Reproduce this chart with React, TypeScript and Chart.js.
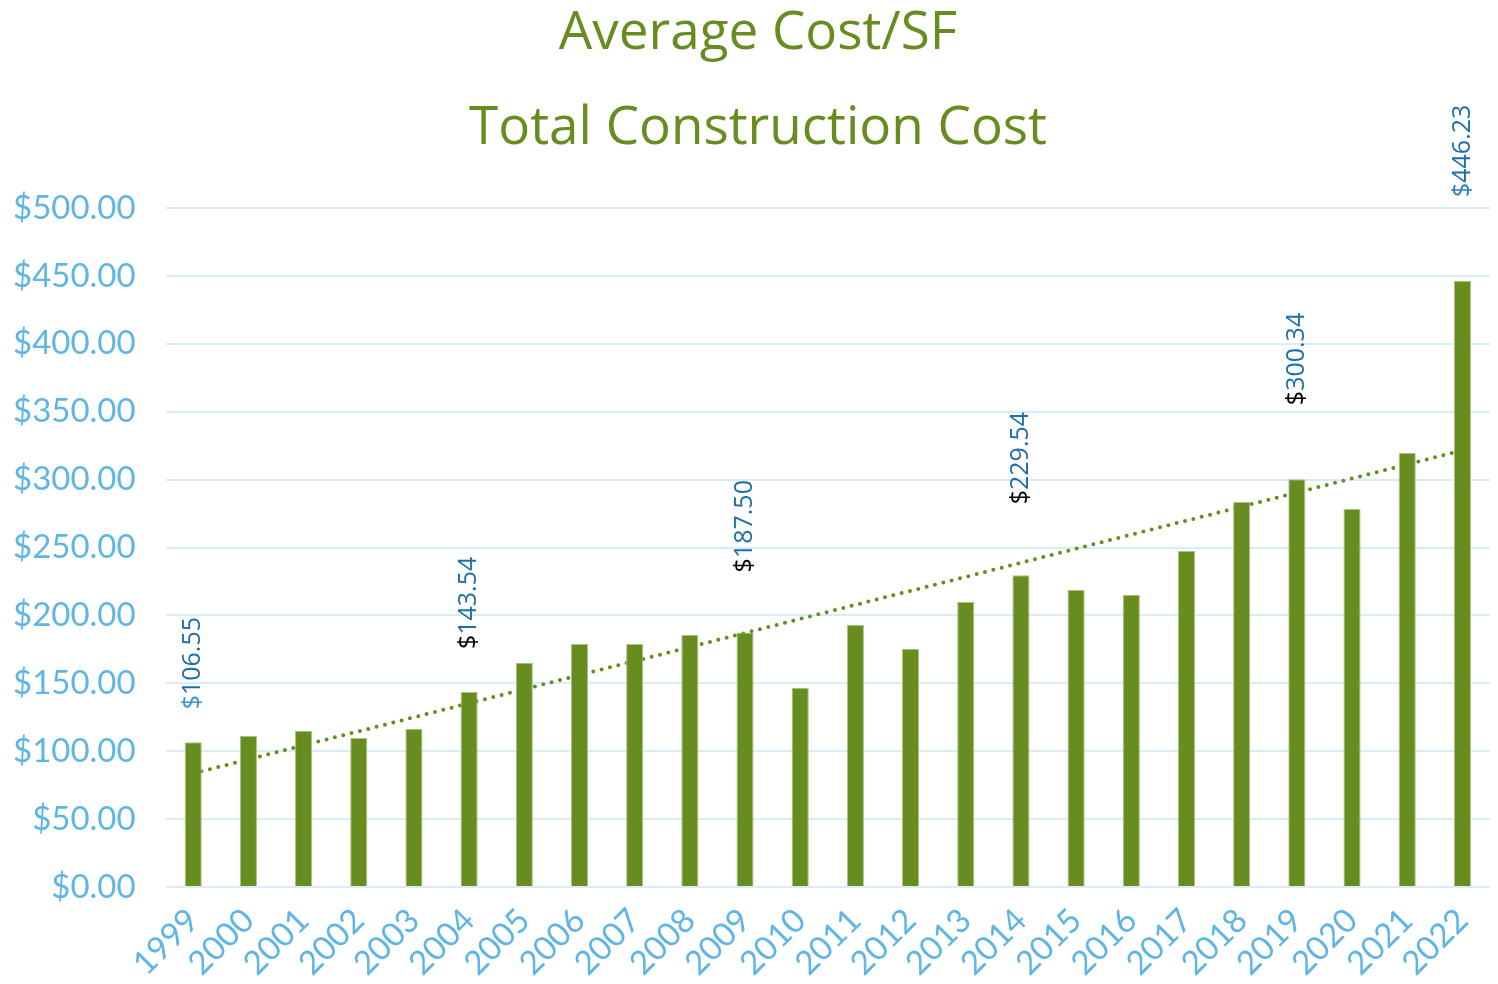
import React, { useEffect, useRef } from "react";
import { Chart, registerables } from "chart.js";

Chart.register(...registerables);

const years = [
  "1999", "2000", "2001", "2002", "2003", "2004", "2005", "2006", "2007", "2008", "2009", "2010",
  "2011", "2012", "2013", "2014", "2015", "2016", "2017", "2018", "2019", "2020", "2021", "2022",
];

const costPerSF = [
  106.55, 111.2, 114.9, 109.7, 116.3, 143.54, 165.0, 179.0, 179.0, 185.6, 187.5, 146.5,
  193.0, 175.3, 209.9, 229.54, 218.7, 215.0, 247.4, 283.5, 300.34, 278.4, 319.6, 446.23,
];

const labeledYears = ["1999", "2004", "2009", "2014", "2019", "2022"];
const dollarSignColors = ["#3c93cf", "#000000", "#000000", "#000000", "#000000", "#2a7fbe"];
const labelGaps = [33, 43, 60, 71, 74, 84];

const titleLines = ["Average Cost/SF", "Total Construction Cost"];

const GREEN = "#678c1f";
const TICK_BLUE = "#5fb5e3";
const LABEL_BLUE = "#1f6fa7";

function linearTrend(values: number[]): number[] {
  const n = values.length;
  let sx = 0, sy = 0, sxy = 0, sxx = 0;
  values.forEach((v, i) => {
    sx += i; sy += v; sxy += i * v; sxx += i * i;
  });
  const slope = (n * sxy - sx * sy) / (n * sxx - sx * sx);
  const intercept = (sy - slope * sx) / n;
  return values.map((_, i) => intercept + slope * i);
}

const valueLabelPlugin = {
  id: "valueLabels",
  afterDatasetsDraw(chart: any) {
    const meta = chart.getDatasetMeta(0);
    const ctx = chart.ctx as CanvasRenderingContext2D;
    ctx.save();
    ctx.font = "25px 'Open Sans', 'Noto Sans', sans-serif";
    ctx.textAlign = "left";
    ctx.textBaseline = "middle";
    labeledYears.forEach((yr, k) => {
      const i = years.indexOf(yr);
      const bar = meta.data[i];
      if (!bar) return;
      const rest = costPerSF[i].toFixed(2);
      ctx.save();
      ctx.translate(bar.x, bar.y - labelGaps[k]);
      ctx.rotate(-Math.PI / 2);
      ctx.fillStyle = dollarSignColors[k];
      ctx.fillText("$", 0, 0);
      const w = ctx.measureText("$").width;
      ctx.fillStyle = LABEL_BLUE;
      ctx.fillText(rest, w, 0);
      ctx.restore();
    });
    ctx.restore();
  },
};

const titlePlugin = {
  id: "twoLineTitle",
  afterDraw(chart: any) {
    const ctx = chart.ctx as CanvasRenderingContext2D;
    ctx.save();
    ctx.font = "53px 'Open Sans', 'Noto Sans', sans-serif";
    ctx.fillStyle = GREEN;
    ctx.textAlign = "center";
    ctx.textBaseline = "middle";
    const cx = chart.width / 2 + 9;
    ctx.fillText(titleLines[0], cx, 34);
    ctx.fillText(titleLines[1], cx, 129);
    ctx.restore();
  },
};

export default function App() {
  const canvasRef = useRef<HTMLCanvasElement | null>(null);

  useEffect(() => {
    if (!canvasRef.current) return;
    const trend = linearTrend(costPerSF);
    const chart = new Chart(canvasRef.current, {
      type: "bar",
      data: {
        labels: years,
        datasets: [
          {
            type: "bar",
            label: "Average Cost/SF",
            data: costPerSF,
            backgroundColor: GREEN,
            borderColor: "#a8c27e",
            borderWidth: 1,
            barPercentage: 0.31,
            categoryPercentage: 1,
            order: 0,
          },
          {
            type: "line",
            label: "Trend",
            data: trend,
            borderColor: GREEN,
            borderWidth: 4,
            borderDash: [0, 8.6],
            borderCapStyle: "round",
            pointRadius: 0,
            fill: false,
            order: 1,
          } as any,
        ],
      },
      options: {
        animation: false,
        responsive: true,
        maintainAspectRatio: false,
        layout: { padding: { left: -17, right: 8, top: 208, bottom: 0 } },
        plugins: {
          legend: { display: false },
          tooltip: { enabled: false },
          title: { display: false },
        },
        scales: {
          x: {
            grid: { display: false },
            border: { display: false },
            afterFit: (s: any) => {
              s.paddingLeft = 0;
              s.paddingRight = 0;
              s.height = 97;
            },
            ticks: {
              color: TICK_BLUE,
              font: { family: "Lato, sans-serif", size: 33 },
              maxRotation: 45,
              minRotation: 45,
              padding: 6,
              autoSkip: false,
            },
          },
          y: {
            min: 0,
            max: 500,
            grid: { color: "#d8edf8", lineWidth: 2, drawTicks: false },
            border: { display: false },
            ticks: {
              stepSize: 50,
              color: TICK_BLUE,
              font: { family: "Lato, sans-serif", size: 33 },
              padding: 30,
              callback: (v: any) => "$" + Number(v).toFixed(2),
            },
          },
        },
      },
      plugins: [valueLabelPlugin, titlePlugin],
    });
    return () => chart.destroy();
  }, []);

  return (
    <div style={{ position: "fixed", left: 0, top: 0, width: 1498, height: 984, background: "#fff" }}>
      <canvas ref={canvasRef} />
    </div>
  );
}
